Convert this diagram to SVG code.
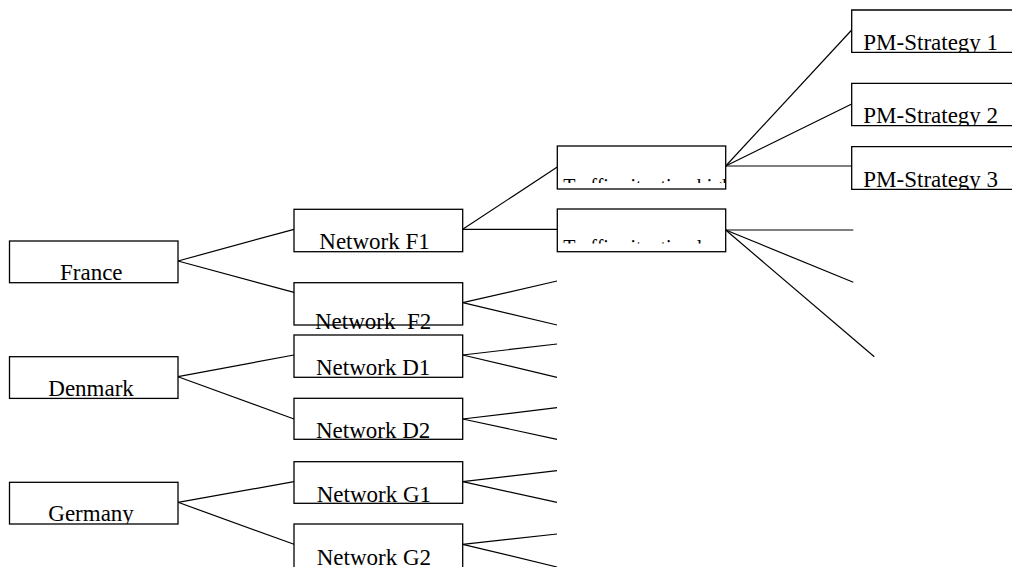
<svg xmlns="http://www.w3.org/2000/svg" width="1012" height="567" viewBox="0 0 1012 567">
<style>
.box{fill:#fff;stroke:#000;stroke-width:1.3}
text{font-family:'Liberation Serif','Times New Roman','DejaVu Serif',serif;fill:#000}
.lbl{font-size:23px;white-space:pre}
.sm{font-size:20px}
#connectors line{stroke:#000;stroke-width:1.2}
</style>
<defs>
<clipPath id="cGer"><rect x="9" y="482" width="170" height="42"/></clipPath>
<clipPath id="cPM1"><rect x="851" y="10" width="161" height="42.3"/></clipPath>
<clipPath id="cPM2"><rect x="851" y="83" width="161" height="42.7"/></clipPath>
<clipPath id="cPM3"><rect x="851" y="146" width="161" height="43.3"/></clipPath>
<clipPath id="cTH"><rect x="557" y="146" width="168.5" height="37"/></clipPath>
<clipPath id="cTL"><rect x="557" y="209" width="168.5" height="34.6"/></clipPath>
<clipPath id="cG2"><rect x="294" y="524" width="169" height="42.5"/></clipPath>
</defs>
<g id="connectors">
<line x1="178" y1="261" x2="294" y2="229.3"/>
<line x1="178" y1="261" x2="294" y2="292.3"/>
<line x1="178" y1="376.7" x2="294" y2="355"/>
<line x1="178" y1="376.7" x2="294" y2="419"/>
<line x1="178" y1="502.3" x2="294" y2="481.7"/>
<line x1="178" y1="502.3" x2="294" y2="544.3"/>
<line x1="462.7" y1="229.3" x2="557.3" y2="167"/>
<line x1="462.7" y1="229.3" x2="557.3" y2="229.3"/>
<line x1="462.7" y1="302.7" x2="557" y2="281"/>
<line x1="462.7" y1="302.7" x2="557" y2="325"/>
<line x1="462.7" y1="355" x2="557" y2="344"/>
<line x1="462.7" y1="355" x2="557" y2="377.3"/>
<line x1="462.7" y1="419" x2="557" y2="407.7"/>
<line x1="462.7" y1="419" x2="557" y2="439.3"/>
<line x1="462.7" y1="481.7" x2="557" y2="470.7"/>
<line x1="462.7" y1="481.7" x2="557" y2="502.3"/>
<line x1="462.7" y1="544.3" x2="557" y2="534"/>
<line x1="462.7" y1="544.3" x2="557" y2="567"/>
<line x1="725.7" y1="166" x2="851.7" y2="30"/>
<line x1="725.7" y1="166" x2="851.7" y2="104"/>
<line x1="725.7" y1="166" x2="851.7" y2="166"/>
<line x1="725.7" y1="230" x2="853.3" y2="230"/>
<line x1="725.7" y1="230" x2="853.3" y2="282.3"/>
<line x1="725.7" y1="230" x2="874.3" y2="356.7"/>
</g>
<g id="france"><rect class="box" x="9.5" y="241" width="168.5" height="41.7"/><text class="lbl" x="60" y="280">France</text></g>
<g id="denmark"><rect class="box" x="9.5" y="356.7" width="168.5" height="41.7"/><text class="lbl" x="48.3" y="396">Denmark</text></g>
<g id="germany"><rect class="box" x="9.5" y="482.3" width="168.5" height="41.7"/><text class="lbl" x="48.3" y="521" clip-path="url(#cGer)">Germany</text></g>
<g id="netF1"><rect class="box" x="294" y="209.3" width="168.7" height="42.4"/><text class="lbl" x="319.3" y="249.3">Network F1</text></g>
<g id="netF2"><rect class="box" x="294" y="282.7" width="168.7" height="42.3"/><text class="lbl" x="315" y="329">Network  F2</text></g>
<g id="netD1"><rect class="box" x="294" y="335" width="168.7" height="42.3"/><text class="lbl" x="316" y="375">Network D1</text></g>
<g id="netD2"><rect class="box" x="294" y="398.3" width="168.7" height="41"/><text class="lbl" x="316" y="438.3">Network D2</text></g>
<g id="netG1"><rect class="box" x="294" y="461.7" width="168.7" height="41.6"/><text class="lbl" x="316.7" y="502">Network G1</text></g>
<g id="netG2"><rect class="box" x="294" y="524" width="168.7" height="44"/><text class="lbl" x="316.7" y="565" clip-path="url(#cG2)">Network G2</text></g>
<g id="trafficHigh"><rect class="box" x="557.3" y="146" width="168.4" height="43"/><text class="sm" x="563.3" y="193" clip-path="url(#cTH)">Traffic situation high</text></g>
<g id="trafficLow"><rect class="box" x="557.3" y="209" width="168.4" height="42.7"/><text class="sm" x="563.3" y="254.2" clip-path="url(#cTL)">Traffic situation low</text></g>
<g id="pm1"><path class="box" d="M1013 10 H851.7 V52.3 H1013"/><text class="lbl" x="863.3" y="49.5" clip-path="url(#cPM1)">PM-Strategy 1</text></g>
<g id="pm2"><path class="box" d="M1013 83.3 H851.7 V125.7 H1013"/><text class="lbl" x="863.3" y="123" clip-path="url(#cPM2)">PM-Strategy 2</text></g>
<g id="pm3"><path class="box" d="M1013 146.7 H851.7 V189.3 H1013"/><text class="lbl" x="863.3" y="186.7" clip-path="url(#cPM3)">PM-Strategy 3</text></g>
</svg>
